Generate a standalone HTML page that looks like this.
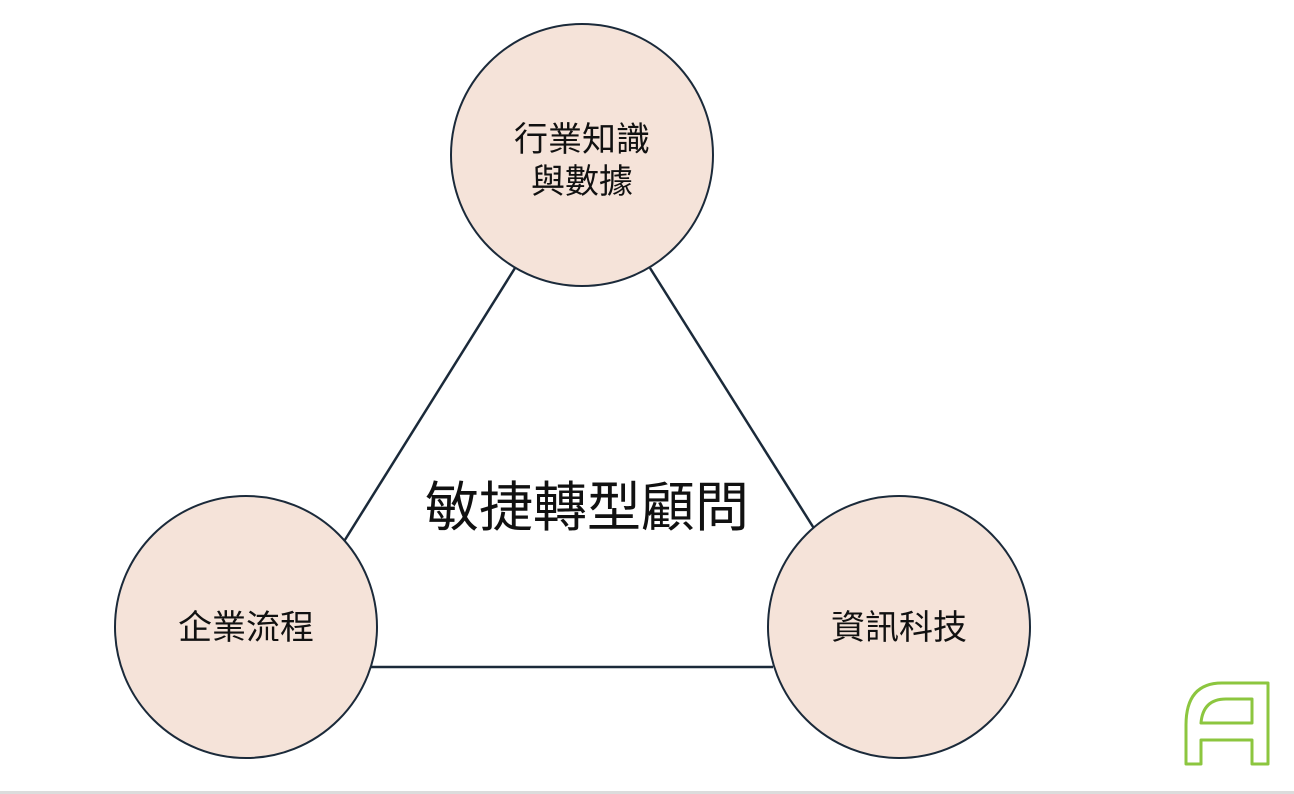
<!DOCTYPE html>
<html><head><meta charset="utf-8"><style>
html,body{margin:0;padding:0;background:#fff;}
body{width:1294px;height:794px;overflow:hidden;position:relative;}
svg{position:absolute;left:0;top:0;}
text{font-family:"Liberation Sans","Noto Sans CJK TC",sans-serif;fill:#111;}
</style></head><body>
<svg width="1294" height="794" viewBox="0 0 1294 794">
<g stroke="#1b2a3a" stroke-width="2.5" fill="none">
<line x1="343" y1="543" x2="515" y2="268"/>
<line x1="650" y1="268" x2="815" y2="530"/>
<line x1="370" y1="667" x2="773" y2="667"/>
</g>
<g fill="#f5e3d9" stroke="#1b2a3a" stroke-width="2">
<circle cx="582" cy="155" r="131"/>
<circle cx="246" cy="627" r="131"/>
<circle cx="899" cy="627" r="131"/>
</g>
<text x="582" y="151" font-size="34" text-anchor="middle">行業知識</text>
<text x="582" y="193" font-size="34" text-anchor="middle">與數據</text>
<text x="246" y="639" font-size="34" text-anchor="middle">企業流程</text>
<text x="899" y="639" font-size="34" text-anchor="middle">資訊科技</text>
<text x="587" y="526" font-size="54" text-anchor="middle">敏捷轉型顧問</text>
<path d="M1186 764 V725 Q1186 683 1222 683 H1268 V764 H1252 V740 H1201 V764 Z M1201 723 H1252 V699 H1226 Q1203 699 1201 723 Z" fill="none" stroke="#8cc63f" stroke-width="3" stroke-linejoin="round"/>
<rect x="0" y="791" width="1294" height="3" fill="#dcdcdc"/>
</svg>
</body></html>
